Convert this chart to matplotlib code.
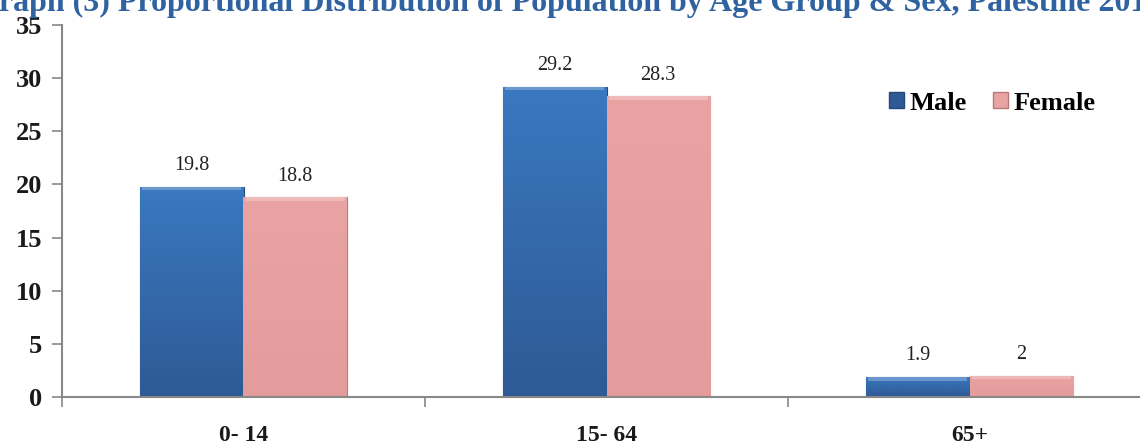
import matplotlib
matplotlib.use("Agg")
import matplotlib.pyplot as plt
import numpy as np
from matplotlib.colors import LinearSegmentedColormap
from matplotlib.patches import Patch

# ---- data ----
categories = ["0- 14", "15- 64", "65+"]
male = [19.8, 29.2, 1.9]
female = [18.8, 28.3, 2.0]
male_labels = ["19.8", "29.2", "1.9"]
female_labels = ["18.8", "28.3", "2"]
series_names = ["Male", "Female"]
yticks = [0, 5, 10, 15, 20, 25, 30, 35]
title = "Graph (3) Proportional Distribution of Population by Age Group & Sex, Palestine 2016"

W, H, DPI = 1140, 445, 100
fig = plt.figure(figsize=(W / DPI, H / DPI), dpi=DPI)
fig.patch.set_facecolor("white")

left = 62 / W
right = 1151 / W
bottom = 1 - 397 / H
top = 1 - 25 / H
ax = fig.add_axes([left, bottom, right - left, top - bottom])

serif = ["Liberation Serif", "DejaVu Serif"]
bw = 0.285
x = np.arange(len(categories)) + 0.5

male_c = ("#3A78C0", "#2E5A95")
female_c = ("#EAA3A3", "#E49B9B")

def grad_bars(xs, vals, cols, edge):
    bars = ax.bar(xs, vals, width=bw, color=cols[1], edgecolor=edge, linewidth=0.8, zorder=2)
    cmap = LinearSegmentedColormap.from_list("g", [cols[1], cols[0]])
    for b in bars:
        x0, y0 = b.get_x(), b.get_y()
        w, h = b.get_width(), b.get_height()
        g = np.linspace(0, 1, 100).reshape(-1, 1)
        im = ax.imshow(g, extent=[x0, x0 + w, y0, y0 + h], origin="lower",
                       cmap=cmap, aspect="auto", zorder=2.1)
        im.set_clip_path(b)
        hh = min(0.35, h * 0.2)
        ax.bar(x0 + w / 2, hh, bottom=y0 + h - hh,
               width=w * 0.96, color="white", alpha=0.25, linewidth=0, zorder=2.2)
    return bars

grad_bars(x - bw / 2, male, male_c, "#24487A")
grad_bars(x + bw / 2, female, female_c, "#B97878")
ax.set_xlim(0, 3)
ax.set_ylim(0, 35)

for xs, vals, labs in [(x - bw / 2, male, male_labels), (x + bw / 2, female, female_labels)]:
    for xi, v, t in zip(xs, vals, labs):
        ax.annotate(t, (xi, v), xytext=(0, 15), textcoords="offset points",
                    ha="center", va="center", fontsize=14.5, family=serif, color="#222222")

for s in ["top", "right"]:
    ax.spines[s].set_visible(False)
for s in ["left", "bottom"]:
    ax.spines[s].set_color("#888888")
    ax.spines[s].set_linewidth(1.5)

ax.set_yticks(yticks)
ax.set_yticklabels([str(v) for v in yticks], fontsize=19, fontweight="bold",
                   family=serif, color="#1a1a1a")
ax.tick_params(axis="y", direction="out", length=7, width=1.2, color="#888888", pad=7)

ax.set_xticks([0, 1, 2, 3])
ax.set_xticklabels([])
ax.tick_params(axis="x", which="major", direction="out", length=7, width=1.2, color="#888888")
ax.set_xticks(x, minor=True)
ax.set_xticklabels(categories, minor=True, fontsize=17, fontweight="bold",
                   family=serif, color="#1a1a1a")
ax.tick_params(axis="x", which="minor", length=0, pad=20)

handles = [Patch(facecolor=male_c[1], edgecolor="#24487A"),
           Patch(facecolor=female_c[0], edgecolor="#B97878")]
ax.legend(handles, series_names, loc="center left",
          bbox_to_anchor=((889 - 62) / (1151 - 62), (397 - 103) / 372),
          ncol=2, frameon=False, prop={"family": serif, "weight": "bold", "size": 19},
          handlelength=0.57, handleheight=0.57, handletextpad=0.2, columnspacing=1.0,
          borderaxespad=0, borderpad=0)

fs = 23
t = fig.text(0, 1 - 11 / H, title, fontsize=fs, fontweight="bold", family=serif,
             color="#2F62A0", ha="left", va="baseline")
fig.canvas.draw()
r = fig.canvas.get_renderer()
g = fig.text(0, 0, "G", fontsize=fs, fontweight="bold", family=serif)
gw = g.get_window_extent(renderer=r).width
g.remove()
t.set_x(-(gw + 1) / W)

fig.savefig("out.png", dpi=DPI, facecolor="white")
